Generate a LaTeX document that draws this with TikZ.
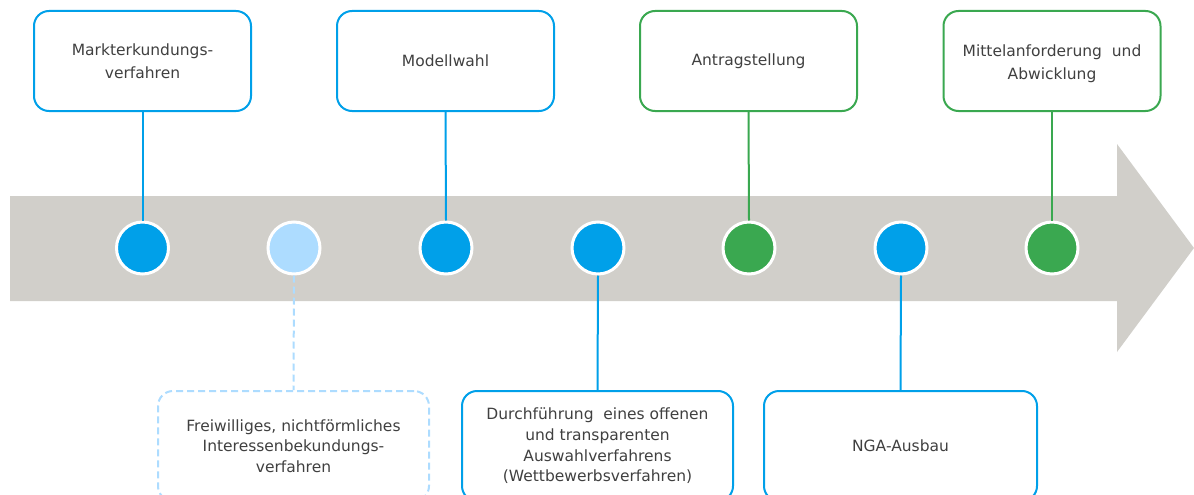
\documentclass[tikz,border=0pt]{standalone}
\usepackage{fontspec}
\setmainfont{DejaVu Sans}
\definecolor{blu}{RGB}{0,160,233}
\definecolor{lblu}{RGB}{173,220,255}
\definecolor{grn}{RGB}{58,168,80}
\definecolor{arrgray}{RGB}{209,207,202}
\definecolor{txt}{RGB}{64,64,64}
\begin{document}
\begin{tikzpicture}[x=1pt,y=-1pt,
  box/.style={draw, line width=2pt, rounded corners=15pt, fill=white, text=txt,
    align=center, inner sep=0pt, minimum width=217pt, minimum height=100pt,
    font=\fontsize{15.5}{23}\selectfont},
  lowbox/.style={box, minimum width=271pt, minimum height=110pt,
    font=\fontsize{15.5}{20.7}\selectfont},
  dot/.style={circle, draw=white, line width=3pt, minimum size=52pt, inner sep=0pt},
  link/.style={line width=2pt},
  dashlink/.style={line width=2pt, dash pattern=on 7pt off 4pt}
]
\useasboundingbox (0,0) rectangle (1194,495);
\clip (0,0) rectangle (1194,495);
% timeline arrow
\fill[arrgray] (10,196) -- (1117,196) -- (1117,144) -- (1194,248) -- (1117,352) -- (1117,301) -- (10,301) -- cycle;
% top boxes
\node[box, draw=blu] (t1) at (142.5,61) {Markterkundungs-\\verfahren};
\node[box, draw=blu] (t2) at (445.5,61) {Modellwahl};
\node[box, draw=grn] (t3) at (748.5,61) {Antragstellung};
\node[box, draw=grn] (t4) at (1052,61) {\rule{0pt}{17pt}Mittelanforderung\ \ und\\Abwicklung};
% bottom boxes
\node[lowbox, draw=lblu, dash pattern=on 7pt off 4pt] (b1) at (293.5,446) {Freiwilliges, nichtförmliches\\Interessenbekundungs-\\verfahren};
\node[lowbox, draw=blu] (b2) at (597.5,446) {Durchführung\ \ eines offenen\\und transparenten\\Auswahlverfahrens\\(Wettbewerbsverfahren)};
\node[lowbox, draw=blu, minimum width=273pt] (b3) at (900.5,446) {NGA-Ausbau};
% circles
\node[dot, fill=blu] (c1) at (142.5,248) {};
\node[dot, fill=lblu] (c2) at (294,248) {};
\node[dot, fill=blu] (c3) at (446,248) {};
\node[dot, fill=blu] (c4) at (598,248) {};
\node[dot, fill=grn] (c5) at (749,248) {};
\node[dot, fill=blu] (c6) at (901,248) {};
\node[dot, fill=grn] (c7) at (1052,248) {};
% connectors
\draw[link, blu] (t1.south) -- (c1.north);
\draw[link, blu] (t2.south) -- (c3.north);
\draw[link, grn] (t3.south) -- (c5.north);
\draw[link, grn] (t4.south) -- (c7.north);
\draw[dashlink, lblu] (c2.south) -- (b1.north);
\draw[link, blu] (c4.south) -- (b2.north);
\draw[link, blu] (c6.south) -- (b3.north);
\end{tikzpicture}
\end{document}
